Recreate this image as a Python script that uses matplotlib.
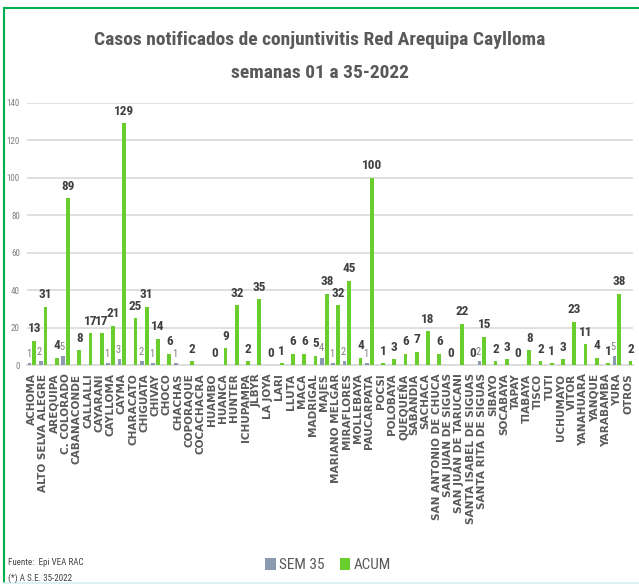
import matplotlib
matplotlib.use('Agg')
from matplotlib import pyplot as plt
from matplotlib import font_manager as fm
from matplotlib.lines import Line2D
from matplotlib.patches import Patch
import numpy as np

nan = np.nan

DISTRITOS = [
    'ACHOMA', 'ALTO SELVA ALEGRE', 'AREQUIPA', 'C. COLORADO', 'CABANACONDE',
    'CALLALLI', 'CAYARANI', 'CAYLLOMA', 'CAYMA', 'CHARACATO', 'CHIGUATA',
    'CHIVAY', 'CHOCO', 'CHACHAS', 'COPORAQUE', 'COCACHACRA', 'HUAMBO',
    'HUANCA', 'HUNTER', 'ICHUPAMPA', 'JLBYR', 'LA JOYA', 'LARI', 'LLUTA',
    'MACA', 'MADRIGAL', 'MAJES', 'MARIANO MELGAR', 'MIRAFLORES', 'MOLLEBAYA',
    'PAUCARPATA', 'POCSI', 'POLOBAYA', 'QUEQUEÑA', 'SABANDIA', 'SACHACA',
    'SAN ANTONIO DE CHUCA', 'SAN JUAN DE SIGUAS', 'SAN JUAN DE TARUCANI',
    'SANTA ISABEL DE SIGUAS', 'SANTA RITA DE SIGUAS', 'SIBAYO', 'SOCABAYA',
    'TAPAY', 'TIABAYA', 'TISCO', 'TUTI', 'UCHUMAYO', 'VITOR', 'YANAHUARA',
    'YANQUE', 'YARABAMBA', 'YURA', 'OTROS',
]

SEM_35 = [
    1, 2, nan, 5, nan, nan, nan, 1, 3, nan, 2, 1, nan, 1, nan, nan, nan,
    nan, nan, nan, nan, nan, nan, nan, nan, nan, 4, 1, 2, nan, 1, nan, nan,
    nan, nan, nan, nan, nan, nan, nan, 2, nan, nan, nan, nan, nan, nan, nan,
    nan, nan, nan, nan, 5, nan,
]

ACUM = [
    13, 31, 4, 89, 8, 17, 17, 21, 129, 25, 31, 14, 6, nan, 2, nan, 0,
    9, 32, 2, 35, 0, 1, 6, 6, 5, 38, 32, 45, 4, 100, 1, 3,
    6, 7, 18, 6, 0, 22, 0, 15, 2, 3, 0, 8, 2, 1, 3,
    23, 11, 4, 1, 38, 2,
]


def narrow(bold):
    # busca una fuente angosta instalada (tipo Arial Narrow)
    if bold:
        keys = ['liberationsansnarrow-bold.', 'robotocondensed-bold.', 'dejavusanscondensed-bold.']
    else:
        keys = ['liberationsansnarrow-regular.', 'robotocondensed-regular.', 'dejavusanscondensed.']
    files = [f.fname for f in fm.fontManager.ttflist]
    for k in keys:
        for fn in files:
            if fn.lower().split('/')[-1].startswith(k):
                return fm.FontProperties(fname=fn), True
    return fm.FontProperties(family='Liberation Sans', weight='bold' if bold else 'normal'), False


NB, HAS_NARROW = narrow(True)
NR, _ = narrow(False)
GREEN = '#6ACD2E'
SEM_COLOR = '#8C9AB0'
TEXT = '#595959'


def fp(base, size):
    p = base.copy()
    p.set_size(size)
    return p


fig = plt.figure(figsize=(6.39, 5.86), dpi=100)
ax = fig.add_axes([0.042, 0.377, 0.949, 0.448])

x = np.arange(len(DISTRITOS))
w = 0.34
sem = np.array(SEM_35, dtype=float)
acum = np.array(ACUM, dtype=float)

ax.bar(x - 0.21, sem, w, color=SEM_COLOR, zorder=3)
ax.bar(x + 0.21, acum, w, color=GREEN, zorder=3)

lab_scale = 1.0 if HAS_NARROW else 0.85
for xi, v in zip(x, sem):
    if not np.isnan(v):
        ax.annotate(f'{int(v)}', (xi - 0.32, v), xytext=(0, 3), textcoords='offset points',
                    ha='center', va='bottom', color='#7F7F7F', fontproperties=fp(NR, 7.5 * lab_scale))
for xi, v in zip(x, acum):
    if not np.isnan(v):
        ax.annotate(f'{int(v)}', (xi + 0.21, v), xytext=(0, 4), textcoords='offset points',
                    ha='center', va='bottom', color='#404040', fontproperties=fp(NB, 9.5 * lab_scale))

ax.set_xlim(-0.45, 53.45)
ax.set_ylim(0, 140)
ax.set_yticks(range(0, 141, 20))
ax.tick_params(axis='y', length=0, labelcolor='#7F7F7F', pad=5)
for lbl in ax.get_yticklabels():
    lbl.set_fontproperties(fp(NR, 6.5))
ax.set_xticks(x)
ax.set_xticklabels(DISTRITOS, rotation=90, fontsize=7.6, color=TEXT, fontweight='bold',
                   family='DejaVu Sans')
ax.tick_params(axis='x', length=0, pad=6)
ax.grid(axis='y', color='#D9D9D9', linewidth=1.2, zorder=0)
for side in ['top', 'right', 'left']:
    ax.spines[side].set_visible(False)
ax.spines['bottom'].set_color('#D9D9D9')
ax.spines['bottom'].set_linewidth(1.2)

tsize = 14 if HAS_NARROW else 12
fig.text(0.5, 0.932, 'Casos notificados de conjuntivitis Red Arequipa Caylloma',
         ha='center', va='center', color=TEXT, fontproperties=fp(NB, tsize))
fig.text(0.5, 0.876, 'semanas 01 a 35-2022',
         ha='center', va='center', color=TEXT, fontproperties=fp(NB, tsize))

handles = [Patch(facecolor=SEM_COLOR), Patch(facecolor=GREEN)]
fig.legend(handles, ['SEM 35', 'ACUM'], loc='center', bbox_to_anchor=(0.513, 0.036),
           ncol=2, frameon=False, prop=fp(NR, 11 if HAS_NARROW else 9.5),
           labelcolor=TEXT, handlelength=0.7, handleheight=0.9, handletextpad=0.2,
           columnspacing=1.0)

fig.text(0.013, 0.040, 'Fuente:  Epi VEA RAC', color='#404040',
         fontproperties=fp(NR, 6.5 if HAS_NARROW else 6), va='center')
fig.text(0.013, 0.013, '(*) A S.E. 35-2022', color='#404040',
         fontproperties=fp(NR, 6.5 if HAS_NARROW else 6), va='center')

# marco verde del grafico
fig.add_artist(Line2D([0.007, 0.007], [0.006, 0.986], transform=fig.transFigure,
                      color='#00B050', linewidth=1.5))
fig.add_artist(Line2D([0.007, 1.0], [0.986, 0.986], transform=fig.transFigure,
                      color='#00B050', linewidth=1.5))
fig.add_artist(Line2D([0.007, 1.0], [0.005, 0.005], transform=fig.transFigure,
                      color='#D5EFEF', linewidth=1.2))

fig.savefig('out.png', dpi=100)
